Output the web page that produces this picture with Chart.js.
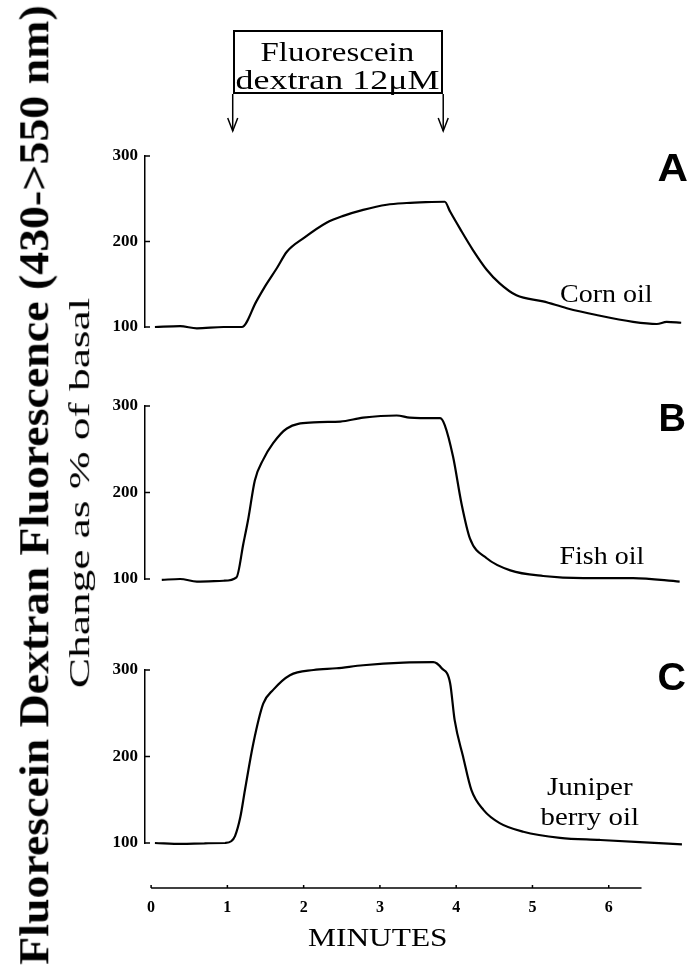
<!DOCTYPE html>
<html>
<head>
<meta charset="utf-8">
<script src="https://cdn.jsdelivr.net/npm/chart.js@4"></script>
<style>
  body { margin: 0; background: #fff; width: 696px; height: 970px; overflow: hidden; position: relative; }
  canvas { position: absolute; left: 0; top: 0; }
  .lbl { position: absolute; white-space: nowrap; color: #000; transform-origin: 50% 50%; }
  #box { position: absolute; top: 30px; height: 64px; border: 2px solid #000; box-sizing: border-box; }
</style>
</head>
<body>
<canvas id="panelA" width="696" height="970"></canvas>
<canvas id="panelB" width="696" height="970"></canvas>
<canvas id="panelC" width="696" height="970"></canvas>
<canvas id="timeAxis" width="696" height="970"></canvas>
<div id="box"></div>
<script>
// time in minutes, response as % of basal
const cornMin = [0.05, 0.38, 0.60, 0.95, 1.19, 1.38, 1.49, 1.65, 1.78, 2.00, 2.30, 2.52, 2.78, 3.09, 3.35, 3.60, 3.85, 3.92, 4.05, 4.22, 4.40, 4.57, 4.79, 5.14, 5.45, 5.84, 6.32, 6.63, 6.76, 6.95]
const cornVal = [100, 101, 98.5, 100, 100, 130, 147, 169, 188, 204, 222, 230, 237, 243, 245, 246, 246.5, 235, 215, 190, 167, 151, 137, 130, 122, 114, 106, 103.5, 106, 105]

const fishMin = [0.14, 0.38, 0.60, 0.95, 1.12, 1.21, 1.275, 1.36, 1.47, 1.60, 1.78, 2.13, 2.48, 2.78, 3.22, 3.39, 3.53, 3.79, 3.85, 3.96, 4.07, 4.18, 4.40, 4.71, 5.14, 5.67, 6.32, 6.93]
const fishVal = [99, 100, 97, 98, 102, 141, 170, 214, 238, 257, 274, 281, 282, 286.5, 289, 286.5, 286, 286, 278, 241, 187, 147, 124, 110, 103.5, 101, 101, 97]

const junMin = [0.05, 0.40, 0.70, 0.97, 1.05, 1.10, 1.17, 1.23, 1.34, 1.47, 1.60, 1.82, 2.13, 2.43, 2.78, 3.31, 3.70, 3.81, 3.92, 3.98, 4.09, 4.20, 4.36, 4.57, 4.88, 5.36, 5.88, 6.41, 6.96]
const junVal = [100, 99, 99.5, 100, 102, 108, 130, 161, 215, 261, 277, 294, 300, 302, 305.5, 308.5, 309, 302, 285, 242, 200, 161, 138, 123, 113, 106, 103.5, 101, 98.5]

const xTicks = [0, 1, 2, 3, 4, 5, 6]
const yTicks = [100, 200, 300]
const dextranOn = 1.07   // arrows of the perfusion box
const dextranOff = 3.83
const axisEnd = 6.43     // drawn length of the time axis

const xMin = -0.08, xMax = 7.0
const serif = 'Liberation Serif'

Chart.defaults.color = '#000'

// small ticks pointing into the plot, like the original
const inTicks = {
    id: 'inTicks',
    afterDraw(chart) {
        const ctx = chart.ctx, y = chart.scales.y, left = chart.chartArea.left
        ctx.save()
        ctx.strokeStyle = '#000'
        ctx.lineWidth = 1.5
        y.ticks.forEach(t => {
            const py = y.getPixelForValue(t.value)
            ctx.beginPath(); ctx.moveTo(left, py); ctx.lineTo(left + 5, py); ctx.stroke()
        })
        ctx.restore()
    }
}

// arrows under the "Fluorescein dextran" box
const dextranMarks = {
    id: 'dextranMarks',
    afterDraw(chart) {
        const ctx = chart.ctx, x = chart.scales.x
        ctx.save()
        ctx.strokeStyle = '#000'
        ctx.lineWidth = 1.5
        ;[dextranOn, dextranOff].forEach(t => {
            const px = x.getPixelForValue(t)
            ctx.beginPath(); ctx.moveTo(px, 94); ctx.lineTo(px, 131); ctx.stroke()
            ctx.beginPath(); ctx.moveTo(px - 5, 118); ctx.lineTo(px, 131); ctx.lineTo(px + 5, 118); ctx.stroke()
        })
        ctx.restore()
    }
}

// bottom time axis: line from 0 to axisEnd with little upward ticks
const timeLine = {
    id: 'timeLine',
    afterDraw(chart) {
        const ctx = chart.ctx, x = chart.scales.x, yb = chart.chartArea.bottom
        ctx.save()
        ctx.strokeStyle = '#000'
        ctx.lineWidth = 1.5
        ctx.beginPath(); ctx.moveTo(x.getPixelForValue(0), yb); ctx.lineTo(x.getPixelForValue(axisEnd), yb); ctx.stroke()
        x.ticks.forEach(t => {
            const px = x.getPixelForValue(t.value)
            ctx.beginPath(); ctx.moveTo(px, yb); ctx.lineTo(px, yb - 3); ctx.stroke()
        })
        ctx.restore()
    }
}

function panelChart(id, mins, vals, top, bottom, extra) {
    return new Chart(document.getElementById(id), {
        type: 'line',
        data: {
            datasets: [{
                data: mins.map((t, i) => ({ x: t, y: vals[i] })),
                borderColor: '#000',
                borderWidth: 2.2,
                pointRadius: 0,
                cubicInterpolationMode: 'monotone',
                clip: false,
                fill: false
            }]
        },
        options: {
            responsive: false,
            animation: false,
            events: [],
            layout: { padding: { left: 100, right: 11, top: top, bottom: 970 - bottom } },
            plugins: { legend: { display: false }, tooltip: { enabled: false } },
            scales: {
                x: { type: 'linear', min: xMin, max: xMax, display: false },
                y: {
                    type: 'linear', min: 100, max: 300,
                    afterBuildTicks: s => { s.ticks = yTicks.map(v => ({ value: v })) },
                    afterFit: s => { s.width = 45 },
                    grid: { display: false, drawTicks: false },
                    border: { display: true, color: '#000', width: 1.5 },
                    ticks: { font: { family: serif, size: 17, weight: 'bold' }, color: '#000', padding: 7 }
                }
            }
        },
        plugins: [inTicks].concat(extra || [])
    })
}

const chartA = panelChart('panelA', cornMin, cornVal, 156, 327, [dextranMarks])
panelChart('panelB', fishMin, fishVal, 406, 579)
panelChart('panelC', junMin, junVal, 670, 843)

new Chart(document.getElementById('timeAxis'), {
    type: 'line',
    data: { datasets: [] },
    options: {
        responsive: false,
        animation: false,
        events: [],
        layout: { padding: { left: 145, right: 11, top: 10, bottom: 52 } },
        plugins: { legend: { display: false }, tooltip: { enabled: false } },
        scales: {
            x: {
                type: 'linear', min: xMin, max: xMax, position: 'bottom',
                afterBuildTicks: s => { s.ticks = xTicks.map(v => ({ value: v })) },
                afterFit: s => { s.height = 30 },
                grid: { display: false, drawTicks: false },
                border: { display: false },
                ticks: { font: { family: serif, size: 16, weight: 'bold' }, color: '#000', padding: 10, maxRotation: 0, autoSkip: false }
            },
            y: { display: false, min: 0, max: 1 }
        }
    },
    plugins: [timeLine]
})

// box over the perfusion period
const xs = chartA.scales.x
const box = document.getElementById('box')
const boxL = xs.getPixelForValue(dextranOn), boxR = xs.getPixelForValue(dextranOff)
box.style.left = boxL + 'px'
box.style.width = (boxR - boxL) + 'px'

// text placed by centre and stretched to the width it has in the figure
function put(text, cx, cy, font, w, rot) {
    const d = document.createElement('div')
    d.className = 'lbl'
    d.textContent = text
    d.style.font = font
    d.style.lineHeight = '1'
    document.body.appendChild(d)
    const nw = d.offsetWidth, nh = d.offsetHeight
    d.style.left = (cx - nw / 2) + 'px'
    d.style.top = (cy - nh / 2) + 'px'
    d.style.transform = (rot ? 'rotate(-90deg) ' : '') + 'scaleX(' + (w / nw) + ')'
}

put('Fluorescein Dextran Fluorescence (430->550 nm)', 34, 485, 'bold 42px "Liberation Serif"', 960, true)
put('Change as % of basal', 79, 493, '30px "Liberation Serif"', 390, true)

put('Fluorescein', boxL + (boxR - boxL) / 2, 52, '28px "Liberation Serif"', 154)
put('dextran 12\u03bcM', boxL + (boxR - boxL) / 2, 80, '28px "Liberation Serif"', 204)

put('A', 672, 168, 'bold 38px "Liberation Sans"', 30)
put('B', 672, 418, 'bold 38px "Liberation Sans"', 27)
put('C', 671, 677, 'bold 38px "Liberation Sans"', 28)

put('Corn oil', 606, 293, '25px "Liberation Serif"', 93)
put('Fish oil', 602, 555, '25px "Liberation Serif"', 85)
put('Juniper', 590, 786, '25px "Liberation Serif"', 86)
put('berry oil', 589, 816, '25px "Liberation Serif"', 98)

put('MINUTES', 378, 938, '26px "Liberation Serif"', 140)
</script>
</body>
</html>
